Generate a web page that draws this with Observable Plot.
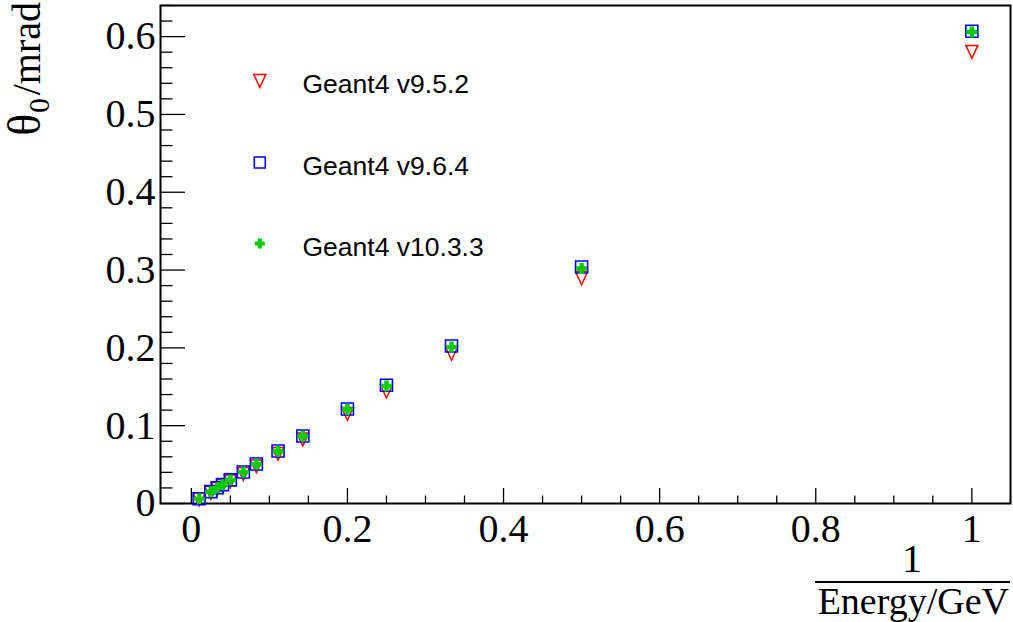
<!DOCTYPE html>
<html><head><meta charset="utf-8">
<script src="https://cdn.jsdelivr.net/npm/d3@7"></script>
<script src="https://cdn.jsdelivr.net/npm/@observablehq/plot@0.6"></script>
<style>body{margin:0;background:#fff}</style>
</head><body><div id="chart"></div>
<script>
// Beam energies (GeV); x = 1/Energy
const energies = [1, 2, 3, 4, 5, 7, 9, 12, 15, 20, 25, 30, 40, 100];
// theta0 (mrad) for each Geant4 version
const v952  = [0.581, 0.290, 0.193, 0.1445, 0.1158, 0.0828, 0.0644, 0.0483, 0.0386, 0.0290, 0.0232, 0.0193, 0.0145, 0.0058];
const v964  = [0.607, 0.304, 0.2025, 0.152, 0.1215, 0.0868, 0.0675, 0.0507, 0.0405, 0.0304, 0.0243, 0.0203, 0.0152, 0.0061];
const v1033 = [0.606, 0.302, 0.201, 0.151, 0.1208, 0.0864, 0.0672, 0.0504, 0.0403, 0.0302, 0.0242, 0.0201, 0.0151, 0.0060];
const seriesNames = ["Geant4 v9.5.2", "Geant4 v9.6.4", "Geant4 v10.3.3"];
const xTicks = [0, 0.2, 0.4, 0.6, 0.8, 1];
const yTicks = [0, 0.1, 0.2, 0.3, 0.4, 0.5, 0.6];

const W = 1013, H = 622, mL = 160, mT = 5, mR = 3, mB = 119;
const fw = W - mL - mR, fh = H - mT - mB;

const xMinor = d3.range(0, 1.0001, 0.05).filter(v => !xTicks.some(t => Math.abs(t - v) < 1e-6));
const yMinor = d3.range(0, 0.6401, 0.02).filter(v => !yTicks.some(t => Math.abs(t - v) < 1e-6));

const mk = vals => energies.map((e, i) => ({x: 1 / e, y: vals[i]}));
const d952 = mk(v952), d964 = mk(v964), d1033 = mk(v1033);

const triDown = {draw(ctx, size) { const r = Math.sqrt(size / Math.PI); ctx.moveTo(-r, -r); ctx.lineTo(r, -r); ctx.lineTo(0, r * 1.15); ctx.closePath(); }};
const sq = {draw(ctx, size) { const r = Math.sqrt(size / Math.PI); ctx.rect(-r, -r, 2 * r, 2 * r); }};
const plus = {draw(ctx, size) { const r = Math.sqrt(size / Math.PI), t = r * 0.4;
  ctx.moveTo(-t, -r); ctx.lineTo(t, -r); ctx.lineTo(t, -t); ctx.lineTo(r, -t); ctx.lineTo(r, t); ctx.lineTo(t, t);
  ctx.lineTo(t, r); ctx.lineTo(-t, r); ctx.lineTo(-t, t); ctx.lineTo(-r, t); ctx.lineTo(-r, -t); ctx.lineTo(-t, -t); ctx.closePath(); }};

const red = "#ff0000", blue = "#0000ff", green = "#00cc00";
const fmt = d => d === 0 ? "0" : (d === 1 ? "1" : d3.format(".1f")(d));
const serif = "'Liberation Serif', 'Times New Roman', serif";
const sans = "'Liberation Sans', Arial, sans-serif";

const legendY = [75, 157, 238];

const plot = Plot.plot({
  width: W, height: H,
  marginLeft: mL, marginTop: mT, marginRight: mR, marginBottom: mB,
  style: {fontFamily: serif, background: "white", color: "black"},
  x: {domain: [-0.0395, 1.0495], axis: null},
  y: {domain: [0, 0.64], axis: null},
  marks: [
    Plot.tickX(xMinor, {x: d => d, insetTop: fh - 7.5, stroke: "black", strokeWidth: 1.3}),
    Plot.tickX(xTicks, {x: d => d, insetTop: fh - 15, stroke: "black", strokeWidth: 1.3}),
    Plot.tickY(yMinor, {y: d => d, insetRight: fw - 12.5, stroke: "black", strokeWidth: 1.3}),
    Plot.tickY(yTicks, {y: d => d, insetRight: fw - 25, stroke: "black", strokeWidth: 1.3}),
    Plot.axisX({ticks: xTicks, tickSize: 0, tickPadding: 10, tickFormat: fmt, fontSize: 40, fontFamily: serif, label: null}),
    Plot.axisY({ticks: yTicks, tickSize: 0, tickPadding: 5, tickFormat: fmt, fontSize: 40, fontFamily: serif, label: null}),
    Plot.frame({stroke: "black", strokeWidth: 2}),
    Plot.dot(d952, {x: "x", y: "y", symbol: triDown, r: 6, stroke: red, strokeWidth: 1.5, fill: "none"}),
    Plot.dot(d964, {x: "x", y: "y", symbol: sq, r: 6, stroke: blue, strokeWidth: 1.6, fill: "none"}),
    Plot.dot(d1033, {x: "x", y: "y", symbol: plus, r: 5.5, fill: green, stroke: "none"}),
    // legend
    Plot.dot([0], {frameAnchor: "top-left", dx: 99.3, dy: legendY[0], symbol: triDown, r: 6, stroke: red, strokeWidth: 1.5, fill: "none"}),
    Plot.dot([0], {frameAnchor: "top-left", dx: 99.3, dy: legendY[1], symbol: sq, r: 5.5, stroke: blue, strokeWidth: 1.6, fill: "none"}),
    Plot.dot([0], {frameAnchor: "top-left", dx: 99.3, dy: legendY[2], symbol: plus, r: 5, fill: green, stroke: "none"}),
    ...seriesNames.map((name, i) => Plot.text([name], {frameAnchor: "top-left", dx: 142, dy: legendY[i] + 12.5, text: d => d,
      textAnchor: "start", lineAnchor: "bottom", fontSize: 26.5, fontFamily: sans, fill: "black"}))
  ]
});
document.getElementById("chart").appendChild(plot);

// Axis titles (ROOT style)
const svg = d3.select(plot);
const yt = svg.append("text")
  .attr("transform", "translate(40,2) rotate(-90)")
  .attr("text-anchor", "end")
  .attr("font-family", serif).attr("font-size", 40).attr("fill", "black");
yt.append("tspan").attr("font-size", 46).text("θ");
yt.append("tspan").attr("font-size", 29).attr("dx", 1).attr("dy", 9).text("0");
yt.append("tspan").attr("dx", 3).attr("dy", -9).text("/mrad");

svg.append("text").attr("x", 912).attr("y", 572).attr("text-anchor", "middle")
  .attr("font-family", serif).attr("font-size", 40).attr("fill", "black").text("1");
svg.append("line").attr("x1", 815).attr("x2", 1010).attr("y1", 582).attr("y2", 582)
  .attr("stroke", "black").attr("stroke-width", 2);
svg.append("text").attr("x", 1009).attr("y", 614).attr("text-anchor", "end")
  .attr("font-family", serif).attr("font-size", 38).attr("fill", "black").text("Energy/GeV");
</script>
</body></html>
